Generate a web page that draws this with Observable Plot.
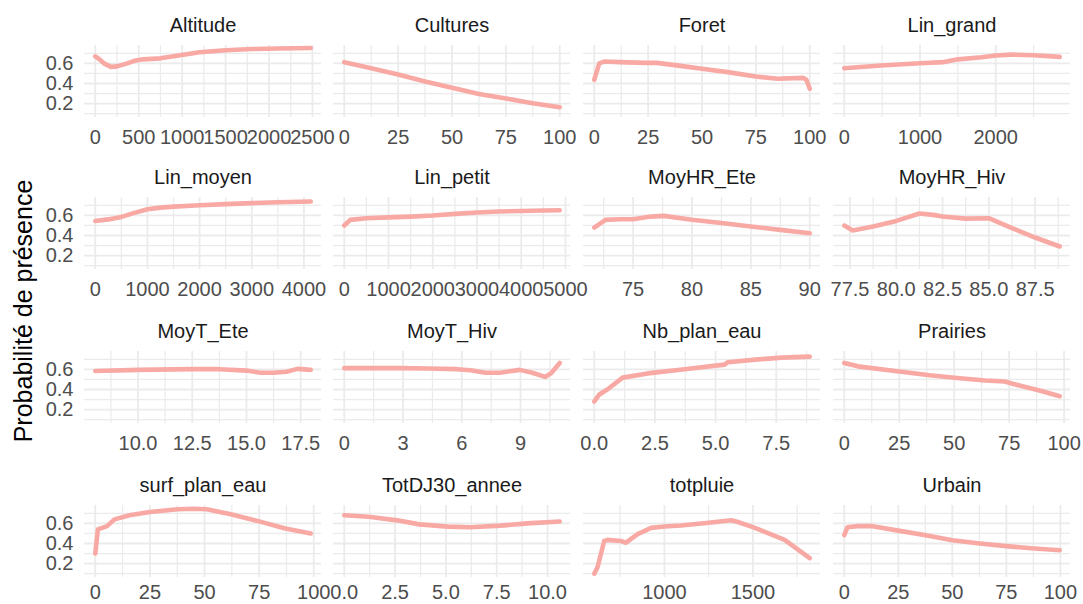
<!DOCTYPE html>
<html><head><meta charset="utf-8">
<script src="https://cdn.jsdelivr.net/npm/d3@7"></script>
<script src="https://cdn.jsdelivr.net/npm/@observablehq/plot@0.6"></script>
<style>
html,body{margin:0;padding:0;background:#fff;}
#chart{position:relative;width:1083px;height:604px;overflow:hidden;font-family:"Liberation Sans",Arial,sans-serif;background:#fff;}
.panel{position:absolute;}
.ylab{position:absolute;left:23px;top:311px;transform:translate(-50%,-50%) rotate(-90deg);font-size:25px;white-space:nowrap;color:#000;}
</style></head><body>
<div id="chart"><div class="ylab">Probabilité de présence</div></div>
<script>
// ---- data ----
const variables = ["Altitude","Cultures","Foret","Lin_grand","Lin_moyen","Lin_petit","MoyHR_Ete","MoyHR_Hiv",
  "MoyT_Ete","MoyT_Hiv","Nb_plan_eau","Prairies","surf_plan_eau","TotDJ30_annee","totpluie","Urbain"];

const altitudeX = [0, 50, 100, 180, 250, 350, 450, 550, 750, 900, 1200, 1500, 1800, 2100, 2480];
const altitudeY = [0.67, 0.64, 0.60, 0.565, 0.57, 0.595, 0.625, 0.64, 0.65, 0.67, 0.71, 0.73, 0.742, 0.748, 0.752];
const altitudeTicks = [0, 500, 1000, 1500, 2000, 2500];

const culturesX = [0, 10, 25, 37.5, 50, 62.5, 75, 87.5, 100];
const culturesY = [0.612, 0.565, 0.49, 0.42, 0.357, 0.295, 0.252, 0.205, 0.165];
const culturesTicks = [0, 25, 50, 75, 100];

const foretX = [0, 2.3, 4.6, 15, 25, 29, 40, 50, 62, 75, 85, 97, 98.5, 100];
const foretY = [0.437, 0.6, 0.618, 0.61, 0.605, 0.605, 0.575, 0.546, 0.513, 0.47, 0.447, 0.456, 0.435, 0.348];
const foretTicks = [0, 25, 50, 75, 100];

const linGrandX = [0, 485, 1000, 1300, 1500, 1813, 2000, 2207, 2500, 2845];
const linGrandY = [0.552, 0.579, 0.602, 0.612, 0.64, 0.66, 0.678, 0.687, 0.68, 0.665];
const linGrandTicks = [0, 1000, 2000];

const linMoyenX = [0, 250, 500, 750, 1000, 1250, 1500, 2000, 2500, 3000, 3500, 4130];
const linMoyenY = [0.545, 0.56, 0.585, 0.625, 0.66, 0.677, 0.687, 0.70, 0.712, 0.722, 0.73, 0.738];
const linMoyenTicks = [0, 1000, 2000, 3000, 4000];

const linPetitX = [0, 135, 500, 1000, 1500, 2000, 2500, 3000, 3500, 4000, 4500, 4870];
const linPetitY = [0.499, 0.555, 0.572, 0.58, 0.588, 0.598, 0.615, 0.628, 0.638, 0.644, 0.648, 0.651];
const linPetitTicks = [0, 1000, 2000, 3000, 4000, 5000];

const moyHREteX = [71.7, 72.65, 73.9, 75, 76.5, 77.6, 80, 82.5, 85, 87.5, 90];
const moyHREteY = [0.479, 0.555, 0.562, 0.562, 0.588, 0.595, 0.557, 0.524, 0.489, 0.456, 0.423];
const moyHREteTicks = [75, 80, 85, 90];

const moyHRHivX = [77.19, 77.65, 78.75, 80, 81.25, 82, 82.5, 83.75, 85, 86.25, 87.5, 88.83];
const moyHRHivY = [0.499, 0.45, 0.49, 0.545, 0.618, 0.605, 0.588, 0.568, 0.572, 0.473, 0.38, 0.291];
const moyHRHivTicks = [77.5, 80, 82.5, 85, 87.5];

const moyTEteX = [8.03, 10, 12.5, 13.75, 15, 15.65, 16.25, 16.85, 17.35, 17.96];
const moyTEteY = [0.584, 0.595, 0.602, 0.602, 0.588, 0.567, 0.567, 0.577, 0.605, 0.595];
const moyTEteTicks = [10, 12.5, 15, 17.5];

const moyTHivX = [0, 2.85, 4.3, 5.75, 6.45, 7.2, 7.95, 8.95, 9.6, 10.25, 10.55, 11.0];
const moyTHivY = [0.612, 0.612, 0.609, 0.602, 0.591, 0.567, 0.567, 0.595, 0.567, 0.525, 0.56, 0.664];
const moyTHivTicks = [0, 3, 6, 9];

const nbPlanEauX = [0, 0.21, 0.55, 1.17, 2.2, 3.72, 5.37, 5.5, 6.75, 7.71, 8.88];
const nbPlanEauY = [0.281, 0.351, 0.403, 0.518, 0.56, 0.602, 0.647, 0.671, 0.699, 0.717, 0.727];
const nbPlanEauTicks = [0, 2.5, 5, 7.5];

const prairiesX = [0, 6.2, 25.9, 38.8, 51.3, 64.1, 72.9, 77, 89.7, 98];
const prairiesY = [0.664, 0.63, 0.577, 0.542, 0.515, 0.49, 0.48, 0.455, 0.386, 0.333];
const prairiesTicks = [0, 25, 50, 75, 100];

const surfPlanEauX = [0, 1.2, 5.4, 8.8, 15.6, 25, 37.8, 45, 51, 62, 75, 87, 98.6];
const surfPlanEauY = [0.30, 0.54, 0.573, 0.64, 0.68, 0.713, 0.74, 0.745, 0.74, 0.69, 0.62, 0.55, 0.50];
const surfPlanEauTicks = [0, 25, 50, 75, 100];

const totDJ30X = [0, 1.2, 2.6, 3.7, 5.1, 6.2, 7.7, 9.0, 10.6];
const totDJ30Y = [0.68, 0.665, 0.63, 0.59, 0.568, 0.562, 0.578, 0.6, 0.618];
const totDJ30Ticks = [0, 2.5, 5, 7.5, 10];

const totpluieX = [604, 623, 660, 679, 755, 783, 849, 925, 1000, 1094, 1251, 1377, 1415, 1500, 1585, 1679, 1755, 1821];
const totpluieY = [0.10, 0.168, 0.425, 0.436, 0.425, 0.408, 0.494, 0.555, 0.569, 0.579, 0.607, 0.631, 0.614, 0.562, 0.504, 0.436, 0.34, 0.254];
const totpluieTicks = [1000, 1500];

const urbainX = [0, 1.5, 6.2, 12.4, 25, 37, 50, 62.7, 75, 88, 99.7];
const urbainY = [0.484, 0.562, 0.573, 0.573, 0.528, 0.484, 0.432, 0.401, 0.374, 0.35, 0.333];
const urbainTicks = [0, 25, 50, 75, 100];

const yTicks = [0.2, 0.4, 0.6];

// ---- assembly ----
const series = [
  [altitudeX, altitudeY, altitudeTicks, "d"],
  [culturesX, culturesY, culturesTicks, "d"],
  [foretX, foretY, foretTicks, "d"],
  [linGrandX, linGrandY, linGrandTicks, "d"],
  [linMoyenX, linMoyenY, linMoyenTicks, "d"],
  [linPetitX, linPetitY, linPetitTicks, "d"],
  [moyHREteX, moyHREteY, moyHREteTicks, "d"],
  [moyHRHivX, moyHRHivY, moyHRHivTicks, ".1f"],
  [moyTEteX, moyTEteY, moyTEteTicks, ".1f"],
  [moyTHivX, moyTHivY, moyTHivTicks, "d"],
  [nbPlanEauX, nbPlanEauY, nbPlanEauTicks, ".1f"],
  [prairiesX, prairiesY, prairiesTicks, "d"],
  [surfPlanEauX, surfPlanEauY, surfPlanEauTicks, "d"],
  [totDJ30X, totDJ30Y, totDJ30Ticks, ".1f"],
  [totpluieX, totpluieY, totpluieTicks, "d"],
  [urbainX, urbainY, urbainTicks, "d"]
];

const FONT = '"Liberation Sans", Arial, sans-serif';
const GRID = "#ebebeb";
const LINE = "#f8a9a4";
const PW = 237, PH = 72, MT = 40, MB = 34;
const colLeft = [83.5, 333.2, 582.9, 832.6];
const rowTop = [45, 197, 351, 505];
const rowPad = [12, 12, 12, 7];
const yDomain = [0.0625, 0.7775];
const yMinor = [0.1, 0.3, 0.5, 0.7];

const chart = document.getElementById("chart");

variables.forEach((name, i) => {
  const [xs, ys, ticks, fmt] = series[i];
  const r = Math.floor(i / 4), c = i % 4;
  const [x0, x1] = d3.extent(xs);
  const pad = (x1 - x0) * 0.05;
  const domain = [x0 - pad, x1 + pad];
  const step = ticks[1] - ticks[0];
  const minor = [];
  for (let v = ticks[0] - step / 2; v <= domain[1]; v += step) if (v >= domain[0]) minor.push(v);
  const data = xs.map((x, k) => ({x, y: ys[k]}));
  const marks = [
    Plot.gridY(yMinor, {stroke: GRID, strokeOpacity: 1, strokeWidth: 1.2}),
    Plot.gridY(yTicks, {stroke: GRID, strokeOpacity: 1, strokeWidth: 1.8}),
    Plot.gridX(minor, {stroke: GRID, strokeOpacity: 1, strokeWidth: 1.2}),
    Plot.gridX(ticks, {stroke: GRID, strokeOpacity: 1, strokeWidth: 1.8}),
    Plot.line(data, {x: "x", y: "y", stroke: LINE, strokeWidth: 4.6}),
    Plot.axisX(ticks, {tickSize: 0, tickPadding: rowPad[r], tickFormat: d3.format(fmt), fill: "#4d4d4d", fontSize: 20, label: null}),
    Plot.text([name], {text: d => d, frameAnchor: "top", dy: -19.5, lineAnchor: "middle", fill: "#1a1a1a", fontSize: 20})
  ];
  if (c === 0) marks.push(Plot.axisY(yTicks, {tickSize: 0, tickPadding: 11, tickFormat: d3.format(".1f"), fill: "#4d4d4d", fontSize: 20, label: null}));
  const svg = Plot.plot({
    width: PW, height: MT + PH + MB,
    marginTop: MT, marginBottom: MB, marginLeft: 0, marginRight: 0,
    x: {domain, label: null},
    y: {domain: yDomain, label: null, axis: c === 0 ? undefined : null},
    style: {overflow: "visible", fontFamily: FONT, fontSize: "20px", background: "transparent", maxWidth: "none"},
    marks
  });
  const holder = document.createElement("div");
  holder.className = "panel";
  holder.style.left = colLeft[c] + "px";
  holder.style.top = (rowTop[r] - MT) + "px";
  holder.appendChild(svg);
  chart.appendChild(holder);
});
</script></body></html>
